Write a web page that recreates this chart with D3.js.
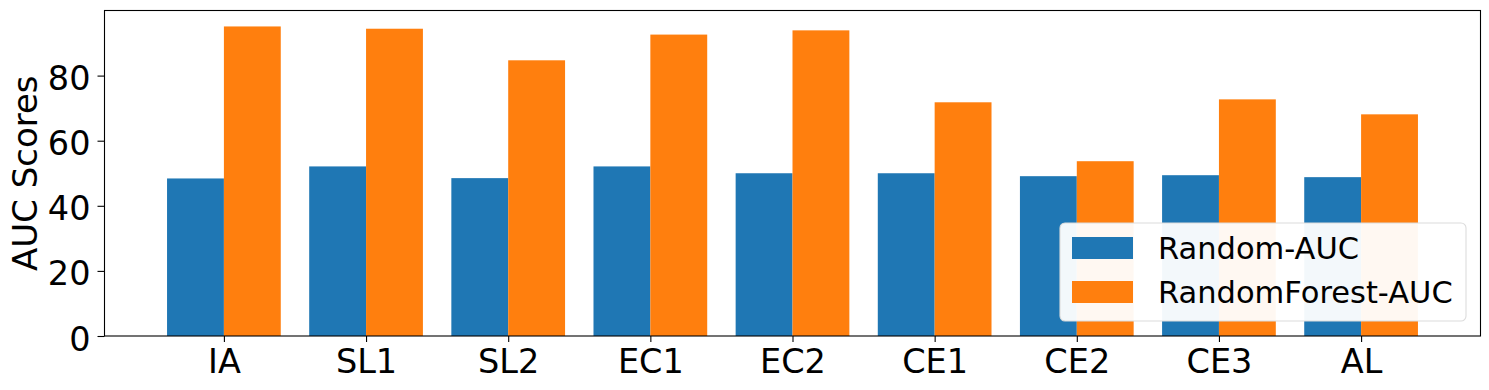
<!DOCTYPE html>
<html>
<head>
<meta charset="utf-8">
<script src="https://cdn.jsdelivr.net/npm/d3@7"></script>
<style>
  html, body { margin: 0; padding: 0; background: #fff; }
  svg { display: block; }
  text { font-family: "DejaVu Sans", sans-serif; fill: #000; }
</style>
</head>
<body>
<svg id="chart" width="1489" height="390"></svg>
<script>
const categories = ["IA", "SL1", "SL2", "EC1", "EC2", "CE1", "CE2", "CE3", "AL"];
const randomAUC = [48.4, 52.1, 48.5, 52.1, 50.0, 50.0, 49.1, 49.4, 48.8];
const randomForestAUC = [95.1, 94.4, 84.7, 92.6, 93.9, 71.8, 53.7, 72.7, 68.1];
const seriesNames = ["Random-AUC", "RandomForest-AUC"];
const seriesColors = ["#1f77b4", "#ff7f0e"];
const yTicks = [0, 20, 40, 60, 80];
const yLabel = "AUC Scores";

const svg = d3.select("#chart");
const margin = { left: 104.5, right: 1489 - 1480.5, top: 10.5, bottom: 390 - 336 };
const W = 1489, H = 390;
const x0 = margin.left, x1 = W - margin.right, y0 = margin.top, y1 = H - margin.bottom;

const barW = 0.4;
const n = categories.length;
const lo = -barW, hi = (n - 1) + barW;
const pad = (hi - lo) * 0.05;
const x = d3.scaleLinear().domain([lo - pad, hi + pad]).range([x0, x1]);
const y = d3.scaleLinear().domain([0, 100]).range([y1, y0]);

const series = [randomAUC, randomForestAUC];
const g = svg.append("g");
series.forEach((vals, s) => {
  g.selectAll(null).data(vals).enter().append("rect")
    .attr("x", (d, i) => x(i + (s === 0 ? -barW : 0)))
    .attr("width", (d, i) => x(i + barW) - x(i))
    .attr("y", d => y(d))
    .attr("height", d => y(0) - y(d))
    .attr("fill", seriesColors[s]);
});

// axes
const fs = 33.5;
const xAxis = d3.axisBottom(x).tickValues(d3.range(n)).tickFormat(i => categories[i]).tickSize(6).tickPadding(4);
const gx = svg.append("g").attr("transform", `translate(0,${y1})`).call(xAxis);
gx.select(".domain").remove();
gx.selectAll("text").attr("font-size", fs).attr("font-family", "DejaVu Sans").attr("dy", null).attr("y", 37).attr("fill", "#000");
gx.selectAll("line").attr("stroke", "#000").attr("stroke-width", 1.1);

const yAxis = d3.axisLeft(y).tickValues(yTicks).tickSize(7).tickPadding(7);
const gy = svg.append("g").attr("transform", `translate(${x0},0)`).call(yAxis);
gy.select(".domain").remove();
gy.selectAll("text").attr("font-size", fs).attr("font-family", "DejaVu Sans").attr("dy", "0.42em").attr("fill", "#000");
gy.selectAll("line").attr("stroke", "#000").attr("stroke-width", 1.1);

// frame
svg.append("rect").attr("x", x0).attr("y", y0).attr("width", x1 - x0).attr("height", y1 - y0)
  .attr("fill", "none").attr("stroke", "#000").attr("stroke-width", 1.1);

// y label
svg.append("text")
  .attr("transform", `translate(${37},${(y0 + y1) / 2}) rotate(-90)`)
  .attr("text-anchor", "middle")
  .attr("font-size", 34)
  .text(yLabel);

// legend
const lfs = 30.5;
const legW = 406, legH = 98;
const legX = x1 - 14.5 - legW, legY = y1 - 15 - legH;
const leg = svg.append("g").attr("transform", `translate(${legX},${legY})`);
leg.append("rect").attr("width", legW).attr("height", legH).attr("rx", 5)
  .attr("fill", "#fff").attr("fill-opacity", 0.95).attr("stroke", "#dcdcdc").attr("stroke-width", 1.1);
seriesNames.forEach((name, i) => {
  const rowY = 14 + i * 44;
  leg.append("rect").attr("x", 12).attr("y", rowY).attr("width", 61).attr("height", 22).attr("fill", seriesColors[i]);
  leg.append("text").attr("x", 98).attr("y", rowY + 22).attr("font-size", lfs).text(name);
});
</script>
</body>
</html>
